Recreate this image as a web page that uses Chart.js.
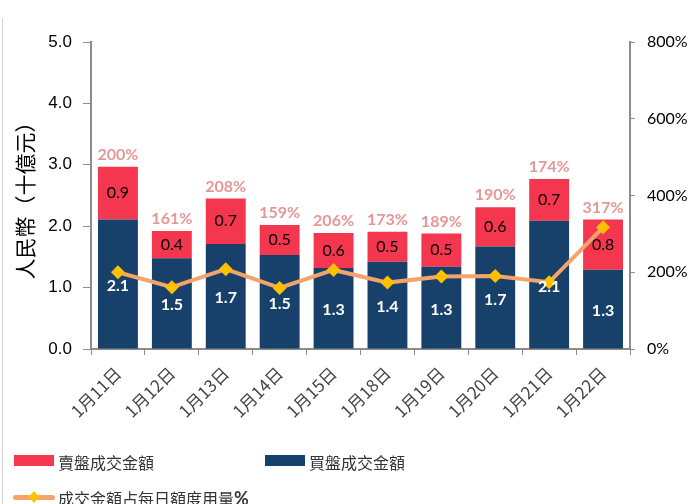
<!DOCTYPE html>
<html>
<head>
<meta charset="utf-8">
<script src="https://cdn.jsdelivr.net/npm/chart.js@4/dist/chart.umd.min.js"></script>
<style>
  html, body { margin: 0; padding: 0; background: #fff; }
  #wrap { position: relative; width: 690px; height: 504px; overflow: hidden; }
  #c { position: absolute; left: 0; top: 0; }
  #edge { position: absolute; left: 2px; top: 18px; width: 1px; height: 486px; background: #d4d4d4; }
  .lg { position: absolute; font-family: "Noto Sans CJK TC", sans-serif; font-size: 16px; color: #333; line-height: 20px; white-space: nowrap; }
  .sw { position: absolute; }
</style>
</head>
<body>
<div id="wrap">
  <canvas id="c" width="690" height="504"></canvas>
  <div id="edge"></div>
  <div class="sw" style="left:14px;top:455px;width:40px;height:11px;background:#F4364F"></div>
  <div class="lg" style="left:58px;top:452px">賣盤成交金額</div>
  <div class="sw" style="left:265px;top:455px;width:40px;height:11px;background:#17416A"></div>
  <div class="lg" style="left:309px;top:452px">買盤成交金額</div>
  <div class="sw" style="left:13px;top:495px;width:42px;height:5px;border-radius:3px;background:#F4A46A"></div>
  <div class="sw" style="left:30px;top:493px;width:8px;height:8px;transform:rotate(45deg);background:#FFC000"></div>
  <div class="lg" style="left:58px;top:488px">成交金額占每日額度用量<b style="font-family:Lato,sans-serif;font-size:18px">%</b></div>
</div>
<script>
const categories = ['1月11日','1月12日','1月13日','1月14日','1月15日','1月18日','1月19日','1月20日','1月21日','1月22日'];
const buyValues  = [2.11, 1.48, 1.71, 1.53, 1.32, 1.42, 1.34, 1.67, 2.09, 1.29];
const sellValues = [0.86, 0.44, 0.74, 0.49, 0.57, 0.49, 0.54, 0.64, 0.68, 0.82];
const usagePct   = [200, 161, 208, 159, 206, 173, 189, 190, 174, 317];
const leftTicks  = [0, 1, 2, 3, 4, 5];
const rightTicks = [0, 200, 400, 600, 800];

const labelPlugin = {
  id: 'labels',
  afterDatasetsDraw(chart) {
    const ctx = chart.ctx;
    const buyMeta = chart.getDatasetMeta(0);
    const sellMeta = chart.getDatasetMeta(1);
    ctx.save();
    ctx.textAlign = 'center';
    ctx.textBaseline = 'middle';
    buyMeta.data.forEach((bar, i) => {
      const mid = (bar.y + bar.base) / 2;
      ctx.font = 'bold 16px Lato, sans-serif';
      ctx.fillStyle = '#ffffff';
      ctx.fillText(buyValues[i].toFixed(1), bar.x, mid + 2);
    });
    sellMeta.data.forEach((bar, i) => {
      const mid = (bar.y + bar.base) / 2;
      ctx.font = '16px Lato, sans-serif';
      ctx.fillStyle = '#000000';
      ctx.fillText(sellValues[i].toFixed(1), bar.x, mid);
      ctx.font = 'bold 16px Lato, sans-serif';
      ctx.fillStyle = '#E69696';
      ctx.fillText(usagePct[i] + '%', bar.x, bar.y - 12);
    });
    ctx.restore();
  }
};

new Chart(document.getElementById('c'), {
  data: {
    labels: categories,
    datasets: [
      { type: 'bar', label: '買盤成交金額', data: buyValues, backgroundColor: '#17416A', borderWidth: 0, stack: 's', yAxisID: 'y', order: 2, barPercentage: 0.74, categoryPercentage: 1 },
      { type: 'bar', label: '賣盤成交金額', data: sellValues, backgroundColor: '#F4364F', borderWidth: 0, stack: 's', yAxisID: 'y', order: 2, barPercentage: 0.74, categoryPercentage: 1 },
      { type: 'line', label: '成交金額占每日額度用量%', data: usagePct, yAxisID: 'y1', order: 0,
        borderColor: '#F4A46A', borderWidth: 4, tension: 0,
        pointStyle: 'rectRot', pointRadius: 7, pointBackgroundColor: '#FFC000', pointBorderColor: '#FFC000', pointBorderWidth: 0 }
    ]
  },
  options: {
    responsive: false,
    animation: false,
    devicePixelRatio: 1,
    layout: { padding: { top: 42, left: 0, right: 0, bottom: 0 } },
    plugins: { legend: { display: false }, tooltip: { enabled: false } },
    scales: {
      x: {
        offset: true,
        grid: { display: true, offset: true, drawOnChartArea: false, drawTicks: true, tickLength: 6, color: '#8c8c8c' },
        border: { display: true, color: '#8c8c8c', width: 2 },
        ticks: { maxRotation: 45, minRotation: 45, autoSkip: false, color: '#444', font: { family: '"Noto Sans CJK TC", sans-serif', size: 17 }, padding: 8 },
        afterFit(s) { s.height = 155; }
      },
      y: {
        position: 'left', min: 0, max: 5, stacked: true,
        afterBuildTicks(s) { s.ticks = leftTicks.map(v => ({ value: v })); },
        ticks: { callback: v => Number(v).toFixed(1), color: '#000', font: { family: '"Liberation Sans", Arial, sans-serif', size: 17 }, padding: 11 },
        grid: { display: true, drawOnChartArea: false, drawTicks: true, tickLength: 8, color: '#8c8c8c' },
        border: { display: true, color: '#8c8c8c', width: 2 },
        title: { display: true, text: '人民幣（十億元）', color: '#000', font: { family: '"Noto Sans CJK TC", sans-serif', size: 21 }, padding: { top: 12, bottom: 0 } },
        afterFit(s) { s.width = 91; }
      },
      y1: {
        position: 'right', min: 0, max: 800,
        afterBuildTicks(s) { s.ticks = rightTicks.map(v => ({ value: v })); },
        ticks: { callback: v => v + '%', color: '#000', font: { family: 'Lato, sans-serif', size: 16 }, padding: 12 },
        grid: { display: true, drawOnChartArea: false, drawTicks: true, tickLength: 5, color: '#8c8c8c' },
        border: { display: true, color: '#8c8c8c', width: 2 },
        afterFit(s) { s.width = 60; }
      }
    }
  },
  plugins: [labelPlugin]
});
</script>
</body>
</html>
